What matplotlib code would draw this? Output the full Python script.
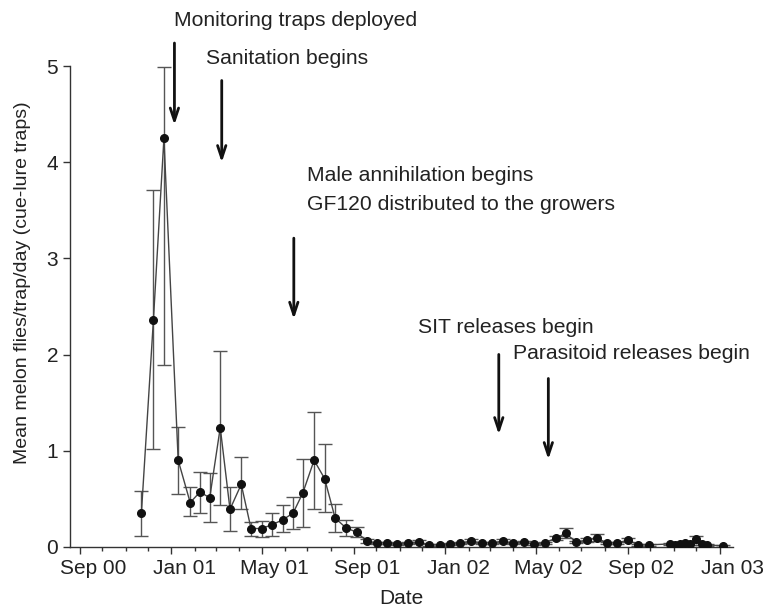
import numpy as np
import pandas as pd
import matplotlib
matplotlib.use('Agg')
import matplotlib.pyplot as plt
import matplotlib.dates as mdates
from matplotlib.transforms import ScaledTranslation

plt.rcParams['font.family'] = ['Liberation Sans', 'DejaVu Sans']

# sampling dates (roughly every two weeks)
dates = ['2000-11-22', '2000-12-08', '2000-12-22', '2001-01-10', '2001-01-26',
         '2001-02-08', '2001-02-21', '2001-03-07', '2001-03-20', '2001-04-04',
         '2001-04-17', '2001-05-01', '2001-05-15', '2001-05-29', '2001-06-12',
         '2001-06-25', '2001-07-10', '2001-07-24', '2001-08-07', '2001-08-21',
         '2001-09-05', '2001-09-18', '2001-10-02', '2001-10-15', '2001-10-29',
         '2001-11-12', '2001-11-27', '2001-12-10', '2001-12-25', '2002-01-07',
         '2002-01-21', '2002-02-04', '2002-02-18', '2002-03-04', '2002-03-18',
         '2002-04-01', '2002-04-15', '2002-04-29', '2002-05-13', '2002-05-28',
         '2002-06-10', '2002-06-24', '2002-07-08', '2002-07-22', '2002-08-04',
         '2002-08-18', '2002-09-01', '2002-09-15', '2002-09-29', '2002-10-27',
         '2002-11-03', '2002-11-10', '2002-11-16', '2002-11-23', '2002-12-01',
         '2002-12-09', '2002-12-15', '2003-01-05']

flies = [0.35, 2.36, 4.25, 0.90, 0.46, 0.57, 0.51, 1.24, 0.39, 0.65,
         0.19, 0.19, 0.23, 0.28, 0.35, 0.56, 0.90, 0.71, 0.30, 0.20,
         0.15, 0.06, 0.04, 0.04, 0.03, 0.04, 0.05, 0.02, 0.02, 0.03,
         0.04, 0.06, 0.04, 0.04, 0.06, 0.04, 0.05, 0.03, 0.04, 0.09,
         0.14, 0.05, 0.07, 0.09, 0.04, 0.04, 0.07, 0.02, 0.02, 0.03,
         0.02, 0.03, 0.04, 0.03, 0.08, 0.03, 0.02, 0.01]

upper = [0.58, 3.71, 4.99, 1.25, 0.62, 0.78, 0.77, 2.04, 0.62, 0.93,
         0.26, 0.27, 0.35, 0.44, 0.52, 0.91, 1.40, 1.07, 0.45, 0.28,
         0.21, 0.08, 0.05, 0.05, 0.04, 0.05, 0.07, 0.03, 0.03, 0.04,
         0.05, 0.08, 0.05, 0.05, 0.08, 0.05, 0.06, 0.04, 0.05, 0.11,
         0.20, 0.06, 0.09, 0.13, 0.05, 0.05, 0.09, 0.03, 0.03, 0.04,
         0.03, 0.04, 0.05, 0.04, 0.11, 0.04, 0.03, 0.02]

lower = [0.11, 1.02, 1.89, 0.55, 0.32, 0.35, 0.26, 0.43, 0.16, 0.39,
         0.11, 0.10, 0.11, 0.15, 0.18, 0.21, 0.39, 0.36, 0.15, 0.11,
         0.10, 0.04, 0.03, 0.03, 0.02, 0.03, 0.04, 0.01, 0.01, 0.02,
         0.03, 0.04, 0.03, 0.03, 0.04, 0.03, 0.04, 0.02, 0.03, 0.07,
         0.09, 0.04, 0.05, 0.06, 0.03, 0.03, 0.05, 0.01, 0.01, 0.02,
         0.01, 0.02, 0.03, 0.02, 0.05, 0.02, 0.01, 0.00]

# management events: label, arrow date, arrow top, arrow tip, text date, text y
events = [
    ('Monitoring traps deployed', '2001-01-05', 5.27, 4.36, '2001-01-05', 5.48),
    ('Sanitation begins', '2001-03-09', 4.88, 3.97, '2001-02-16', 5.08),
    ('Male annihilation begins\nGF120 distributed to the growers', '2001-06-13', 3.24, 2.34, '2001-06-30', 3.71),
    ('SIT releases begin', '2002-03-13', 2.03, 1.14, '2001-11-25', 2.28),
    ('Parasitoid releases begin', '2002-05-18', 1.78, 0.88, '2002-04-01', 2.01),
]

x = pd.to_datetime(dates)
y = np.array(flies)
yerr = np.array([y - np.array(lower), np.array(upper) - y])

fig = plt.figure(figsize=(7.7, 6.13), dpi=100)
ax = fig.add_axes([0.091, 0.108, 0.861, 0.784])

ax.errorbar(x, y, yerr=yerr, fmt='none', ecolor='#555555', elinewidth=1.0,
            capsize=5, capthick=1.0, zorder=2)
ax.plot(x, y, color='#444444', lw=1.0, zorder=3)
ax.plot(x, y, 'o', color='#111111', markersize=5.5, zorder=4)

for label, ax_date, y0, y1, tx_date, ty in events:
    ax.annotate('', xy=(pd.Timestamp(ax_date), y1), xytext=(pd.Timestamp(ax_date), y0),
                arrowprops=dict(arrowstyle='->,head_length=0.9,head_width=0.3',
                                color='#111111', lw=2),
                annotation_clip=False)
    ax.text(pd.Timestamp(tx_date), ty, label, fontsize=15.2, color='#222222',
            ha='left', va='center', linespacing=1.67, clip_on=False)

ax.set_ylim(0, 5)
ax.set_xlim(pd.Timestamp('2000-08-19'), pd.Timestamp('2003-01-19'))
ax.set_yticks([0, 1, 2, 3, 4, 5])

ax.xaxis.set_major_locator(mdates.MonthLocator(bymonth=[1, 5, 9]))
ax.xaxis.set_minor_locator(mdates.MonthLocator())
ax.xaxis.set_major_formatter(mdates.DateFormatter('%b %y'))

ax.spines['top'].set_visible(False)
ax.spines['right'].set_visible(False)
for s in ['left', 'bottom']:
    ax.spines[s].set_color('#333333')
    ax.spines[s].set_linewidth(1.0)

ax.tick_params(axis='both', which='major', labelsize=15, colors='#333333',
               labelcolor='#222222', length=5, width=1, direction='out')
ax.tick_params(axis='x', which='minor', length=3, width=1, colors='#333333')

shift = ScaledTranslation(13 / 100, 0, fig.dpi_scale_trans)
for lab in ax.get_xticklabels():
    lab.set_transform(lab.get_transform() + shift)

ax.set_xlabel('Date', fontsize=15, color='#222222', labelpad=8)
ax.set_ylabel('Mean melon flies/trap/day (cue-lure traps)', fontsize=14,
              color='#222222', labelpad=11)
ax.yaxis.label.set_y(0.55)

plt.savefig('out.png', dpi=100)
